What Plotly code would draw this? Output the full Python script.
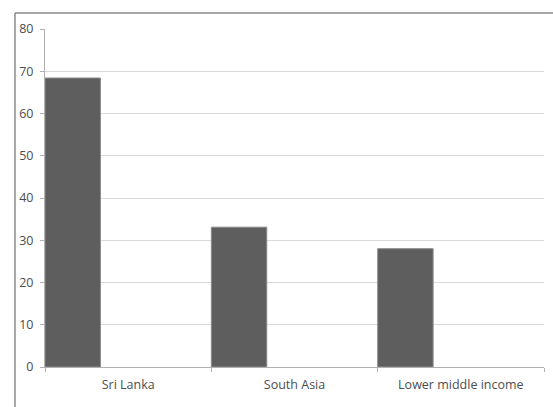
import plotly.graph_objects as go

categories = ["Sri Lanka", "South Asia", "Lower middle income"]
values = [68.4, 33.1, 28.0]
y_ticks = [0, 10, 20, 30, 40, 50, 60, 70, 80]

W, H = 553, 407
ml, mr, mt, mb = 45, 9, 29, 40
plot_w = W - ml - mr
plot_h = H - mt - mb

fig = go.Figure(
    go.Bar(
        x=categories,
        y=values,
        width=1 / 3,
        offset=-0.5,
        marker=dict(color="#5e5e5e", line=dict(color="#8c8c8c", width=1)),
        hoverinfo="x+y",
    )
)

# outer chart frame (left and top edges)
fx = -(ml - 15) / plot_w
fy = 1 + (mt - 13) / plot_h
fig.add_shape(type="line", xref="paper", yref="paper", x0=fx, x1=fx, y0=fy, y1=-2,
              line=dict(color="#8a8a8a", width=1.5))
fig.add_shape(type="line", xref="paper", yref="paper", x0=fx, x1=2, y0=fy, y1=fy,
              line=dict(color="#8a8a8a", width=1.5))

fig.update_layout(
    width=W,
    height=H,
    margin=dict(l=ml, r=mr, t=mt, b=mb),
    paper_bgcolor="white",
    plot_bgcolor="white",
    showlegend=False,
    font=dict(family="Open Sans", size=12, color="#4d4d4d"),
    xaxis=dict(
        type="category",
        range=[-0.5, 2.5],
        tickson="boundaries",
        ticks="outside",
        ticklen=4,
        tickcolor="#b0b0b0",
        showgrid=False,
        showline=True,
        linecolor="#b0b0b0",
        linewidth=1,
        tickfont=dict(size=12.5, color="#4d4d4d"),
        ticklabelstandoff=6,
    ),
    yaxis=dict(
        range=[0, 80],
        tickvals=y_ticks,
        ticks="outside",
        ticklen=4,
        tickcolor="#b0b0b0",
        showgrid=True,
        gridcolor="#d9d9d9",
        gridwidth=1.2,
        showline=True,
        linecolor="#b0b0b0",
        linewidth=1,
        zeroline=False,
        tickfont=dict(size=12.5, color="#4d4d4d"),
        ticklabelstandoff=4,
    ),
)

fig.write_html("out.html")
